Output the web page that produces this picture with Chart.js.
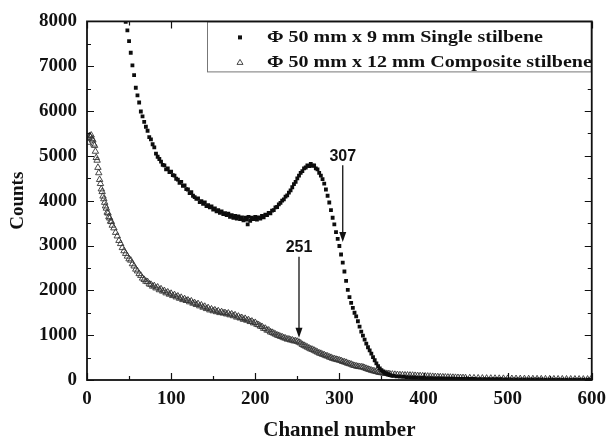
<!DOCTYPE html>
<html>
<head>
<meta charset="utf-8">
<script src="https://cdn.jsdelivr.net/npm/chart.js@4/dist/chart.umd.min.js"></script>
<style>
html,body{margin:0;padding:0;background:#fff;}
#c{display:block;}
</style>
</head>
<body>
<canvas id="c" width="614" height="443"></canvas>
<script>
// ---- Data ----
const singleLabel = "Φ 50 mm x 9 mm Single stilbene";
const compositeLabel = "Φ 50 mm x 12 mm Composite stilbene";

const singleX = [46,48,50,52,54,56,58,60,62,64,66,68,70,72,74,76,78,80,82,84,86,88,90,92,94,96,98,100,102,104,106,108,110,112,114,116,118,120,122,124,126,128,130,132,134,136,138,140,142,144,146,148,150,152,154,156,158,160,162,164,166,168,170,172,174,176,178,180,182,184,186,188,190,191,192,194,196,198,200,202,204,206,208,210,212,214,216,218,220,222,224,226,228,230,232,234,236,238,240,242,244,246,248,250,252,254,256,258,260,262,264,266,268,270,272,274,276,278,280,282,284,286,288,290,292,294,296,298,300,302,304,306,308,310,312,314,316,318,320,322,324,326,328,330,332,334,336,338,340,342,344,346,348,350,352,354,356,358,360,362,364,368,372,376,380,384,388,392,396,400,404,408,412,416,420,424,428,432,436,440,444,448,452,456,460,464,468,472,476,480,484,488,492,496,500,505,510,515,520,525,530,535,540,545,550,555,560,565,570,575,580,585,590,595,599];
const singleY = [7990,7800,7560,7300,7020,6800,6520,6350,6190,5990,5880,5760,5650,5560,5420,5370,5260,5190,5050,4980,4930,4870,4800,4790,4700,4720,4640,4650,4570,4560,4490,4470,4400,4420,4330,4340,4260,4250,4170,4190,4110,4080,4040,4050,3970,3990,3930,3960,3880,3900,3850,3870,3800,3830,3760,3790,3730,3760,3700,3720,3680,3710,3640,3680,3620,3660,3600,3650,3590,3630,3560,3620,3580,3470,3640,3550,3620,3590,3640,3580,3630,3600,3660,3630,3690,3680,3730,3720,3780,3790,3850,3860,3920,3950,4000,4030,4090,4120,4180,4230,4300,4370,4420,4500,4560,4620,4660,4720,4740,4790,4770,4820,4780,4790,4720,4700,4620,4560,4480,4380,4250,4110,3960,3790,3620,3470,3300,3150,2990,2800,2620,2420,2210,2010,1850,1720,1610,1500,1420,1310,1190,1080,990,900,810,730,660,590,510,440,370,310,260,220,185,160,140,122,108,98,90,82,76,70,64,60,56,52,48,45,42,40,38,36,34,32,31,30,28,27,26,25,24,23,22,21,20,19,18,18,17,16,16,15,15,14,14,13,13,12,12,11,11,10,10,10,9,9,9,8,8,8,8,8,8];

const compositeX = [1,2,3,4,5,6,7,8,9,10,11,12,13,14,15,16,17,18,19,20,21,22,23,24,25,26,27,28,29,30,32,34,36,38,40,42,44,46,48,50,52,54,56,58,60,62,64,66,68,70,72,74,76,78,80,82,84,86,88,90,92,94,96,98,100,102,104,106,108,110,112,114,116,118,120,122,124,126,128,130,132,134,136,138,140,142,144,146,148,150,152,154,156,158,160,162,164,166,168,170,172,174,176,178,180,182,184,186,188,190,192,194,196,198,200,202,204,206,208,210,212,214,216,218,220,222,224,226,228,230,232,234,236,238,240,242,244,246,248,250,252,254,256,258,260,262,264,266,268,270,272,274,276,278,280,282,284,286,288,290,292,294,296,298,300,302,304,306,308,310,312,314,316,318,320,322,324,326,328,330,332,334,336,338,340,342,344,346,348,350,352,354,356,358,360,363,366,369,372,375,378,381,384,387,390,393,396,399,402,405,408,411,414,417,420,423,426,429,432,435,438,441,444,447,450,455,460,465,470,475,480,485,490,495,500,505,510,515,520,525,530,535,540,545,550,555,560,565,570,575,580,585,590,595,599];
const compositeY = [5300,5400,5450,5420,5460,5380,5350,5260,5230,5100,4960,4900,4740,4620,4470,4380,4260,4200,4100,4040,3960,3880,3830,3740,3720,3640,3610,3540,3530,3450,3390,3290,3210,3110,3040,2950,2880,2820,2760,2700,2670,2590,2540,2470,2430,2370,2330,2270,2240,2200,2190,2140,2130,2090,2100,2050,2070,2010,2030,1980,1990,1940,1960,1910,1930,1880,1900,1850,1870,1820,1840,1790,1810,1770,1780,1740,1760,1710,1720,1680,1700,1650,1670,1620,1640,1590,1610,1560,1580,1540,1560,1520,1540,1500,1520,1490,1500,1470,1490,1450,1470,1430,1450,1400,1420,1380,1390,1350,1370,1330,1340,1300,1310,1270,1280,1240,1230,1200,1190,1150,1150,1110,1110,1070,1060,1040,1020,1000,990,970,960,940,930,910,910,890,890,870,870,860,840,820,790,770,750,730,710,690,680,660,640,620,600,590,570,560,540,530,510,500,480,470,460,450,440,430,410,400,390,370,360,350,330,320,310,300,295,290,285,270,255,240,230,215,205,195,185,175,165,160,152,148,142,138,132,127,122,118,114,111,108,106,104,102,98,95,92,88,85,82,79,76,73,70,67,65,62,60,58,56,54,52,50,49,47,45,43,41,39,37,36,34,33,32,30,29,28,27,26,25,24,23,22,21,21,20,19,19,18,18,17,17,16,16,16];

const xTicks = [0,100,200,300,400,500,600];
const yTicks = [0,1000,2000,3000,4000,5000,6000,7000,8000];
const xMinorStep = 50;
const yMinorStep = 500;

const arrowLabels = ["251","307"];
const arrowX = [252,304];
const arrowFrom = [2750,4790];
const arrowTo = [945,3080];

// ---- Plugins ----
const framePlugin = {
  id: 'frame',
  afterDatasetsDraw(chart) {
    const {ctx, chartArea:a, scales:{x, y}} = chart;
    ctx.save();
    ctx.strokeStyle = '#111';
    ctx.lineWidth = 1.2;
    for (let v = x.min; v <= x.max; v += xMinorStep) {
      const px = Math.round(x.getPixelForValue(v)) + 0.5;
      const len = xTicks.includes(v) ? 7 : 4;
      ctx.beginPath();
      ctx.moveTo(px, a.bottom); ctx.lineTo(px, a.bottom - len);
      ctx.moveTo(px, a.top); ctx.lineTo(px, a.top + len);
      ctx.stroke();
    }
    for (let v = y.min; v <= y.max; v += yMinorStep) {
      const py = Math.round(y.getPixelForValue(v)) + 0.5;
      const len = yTicks.includes(v) ? 7 : 4;
      ctx.beginPath();
      ctx.moveTo(a.left, py); ctx.lineTo(a.left + len, py);
      ctx.moveTo(a.right, py); ctx.lineTo(a.right - len, py);
      ctx.stroke();
    }
    // arrows with labels
    ctx.fillStyle = '#111';
    ctx.lineWidth = 1.3;
    ctx.font = 'bold 16px "Liberation Sans", Arial, sans-serif';
    ctx.textAlign = 'center';
    ctx.textBaseline = 'bottom';
    for (let i = 0; i < arrowLabels.length; i++) {
      const px = x.getPixelForValue(arrowX[i]);
      const y0 = y.getPixelForValue(arrowFrom[i]);
      const y1 = y.getPixelForValue(arrowTo[i]);
      ctx.beginPath();
      ctx.moveTo(px, y0); ctx.lineTo(px, y1 - 6);
      ctx.stroke();
      ctx.beginPath();
      ctx.moveTo(px, y1);
      ctx.lineTo(px - 3.5, y1 - 10);
      ctx.lineTo(px + 3.5, y1 - 10);
      ctx.closePath();
      ctx.fill();
      ctx.fillText(arrowLabels[i], px, y0 - 1);
    }
    // legend box
    const L = a.left + 120, T = a.top, R = a.right, B = a.top + 51;
    ctx.fillStyle = '#fff';
    ctx.fillRect(L, T, R - L, B - T);
    ctx.strokeStyle = '#777';
    ctx.lineWidth = 1;
    ctx.strokeRect(L + 0.5, T + 0.5, R - L - 1, B - T - 1);
    const ds = chart.data.datasets;
    const rows = [T + 16, T + 41];
    const mx = a.left + 153, tx = a.left + 180;
    ctx.fillStyle = '#111';
    ctx.fillRect(mx - 2, rows[0] - 2, 4, 4);
    ctx.strokeStyle = '#333';
    ctx.lineWidth = 0.9;
    ctx.beginPath();
    ctx.moveTo(mx, rows[1] - 3);
    ctx.lineTo(mx + 3, rows[1] + 2);
    ctx.lineTo(mx - 3, rows[1] + 2);
    ctx.closePath();
    ctx.stroke();
    ctx.font = 'bold 17px "Liberation Serif", "Times New Roman", serif';
    ctx.textAlign = 'left';
    ctx.textBaseline = 'middle';
    ctx.fillStyle = '#111';
    const w0 = ctx.measureText(ds[0].label).width;
    const sx = 276 / w0;
    for (let i = 0; i < ds.length; i++) {
      ctx.save();
      ctx.translate(tx, rows[i]);
      ctx.scale(sx, 1);
      ctx.fillText(ds[i].label, 0, 0);
      ctx.restore();
    }
    // frame
    ctx.strokeStyle = '#111';
    ctx.lineWidth = 1.8;
    ctx.strokeRect(a.left, a.top, a.right - a.left, a.bottom - a.top);
    ctx.restore();
  }
};

const toPts = (xs, ys) => xs.map((v, i) => ({x: v, y: ys[i]}));
const serif = '"Liberation Serif", "Times New Roman", serif';

new Chart(document.getElementById('c'), {
  type: 'scatter',
  data: {
    datasets: [
      {
        label: singleLabel,
        data: toPts(singleX, singleY),
        pointStyle: 'rect',
        pointRadius: 2.7,
        backgroundColor: '#0d0d0d',
        borderColor: '#0d0d0d',
        borderWidth: 0,
        order: 0
      },
      {
        label: compositeLabel,
        data: toPts(compositeX, compositeY),
        pointStyle: 'triangle',
        pointRadius: 3.7,
        backgroundColor: 'rgba(255,255,255,0)',
        borderColor: '#333',
        borderWidth: 0.9,
        order: 1
      }
    ]
  },
  options: {
    responsive: false,
    devicePixelRatio: 1,
    animation: false,
    layout: {padding: {top: 16, right: 14, left: 0, bottom: 0}},
    plugins: {legend: {display: false}, tooltip: {enabled: false}},
    scales: {
      x: {
        type: 'linear',
        min: 0, max: 600,
        afterBuildTicks: s => { s.ticks = xTicks.map(v => ({value: v})); },
        afterFit: s => { s.height = 63; },
        grid: {display: false, drawTicks: false},
        border: {display: false},
        ticks: {color: '#111', padding: 8, callback: v => String(v),
                font: {family: serif, size: 19, weight: 'bold'}},
        title: {display: true, text: 'Channel number', color: '#111', padding: {top: 0, bottom: 0},
                font: {family: serif, size: 21, weight: 'bold'}}
      },
      y: {
        type: 'linear',
        min: 0, max: 8000,
        afterBuildTicks: s => { s.ticks = yTicks.map(v => ({value: v})); },
        afterFit: s => { s.width = 87; },
        grid: {display: false, drawTicks: false},
        border: {display: false},
        ticks: {color: '#111', padding: 10, callback: v => String(v),
                font: {family: serif, size: 19, weight: 'bold'}},
        title: {display: true, text: 'Counts', color: '#111', padding: {top: 7, bottom: 0},
                font: {family: serif, size: 19, weight: 'bold'}}
      }
    }
  },
  plugins: [framePlugin]
});
</script>
</body>
</html>
